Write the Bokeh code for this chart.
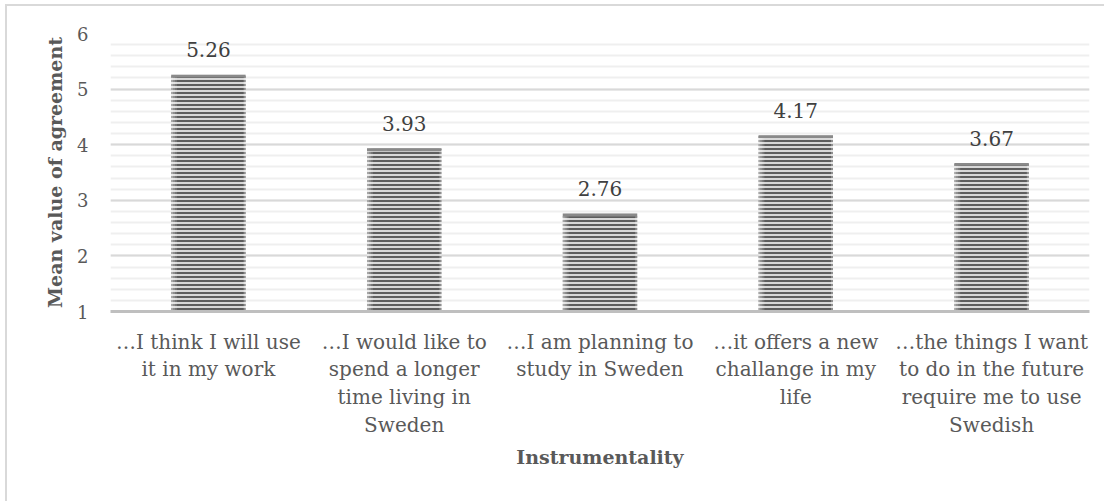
from bokeh.plotting import figure
from bokeh.models import ColumnDataSource, FixedTicker, LabelSet
from bokeh.core.properties import value
from bokeh.transform import dodge
from bokeh.embed import file_html
from bokeh.resources import INLINE

categories = [
    "…I think I will use\nit in my work",
    "…I would like to\nspend a longer\ntime living in\nSweden",
    "…I am planning to\nstudy in Sweden",
    "…it offers a new\nchallange in my\nlife",
    "…the things I want\nto do in the future\nrequire me to use\nSwedish",
]
values = [5.26, 3.93, 2.76, 4.17, 3.67]
labels = ["5.26", "3.93", "2.76", "4.17", "3.67"]
y_ticks = [1, 2, 3, 4, 5, 6]
y_minor = [round(1 + 0.2 * i, 1) for i in range(26)]

FONT = "DejaVu Serif"
TXT = "#595959"
BAR_W = 0.38
BORDER = "#d9d9d9"

src = ColumnDataSource(dict(x=categories, top=values, lab=labels,
                            band=[v - 0.05 for v in values]))

p = figure(x_range=categories, y_range=(1, 6), width=1099, height=497,
           output_backend="svg", toolbar_location=None,
           min_border_left=103, min_border_right=17, min_border_top=27,
           min_border_bottom=192)
p.outline_line_color = None
p.background_fill_color = "white"
p.border_fill_color = "white"
# outer chart-area border (light grey, top and left edges visible)
p.margin = (4, 0, 0, 5)
p.styles = {"border-top": f"2px solid {BORDER}", "border-left": f"2px solid {BORDER}"}

p.vbar(x="x", top="top", bottom=1, width=BAR_W, source=src,
       fill_color="#d8d8d8", line_color=None,
       hatch_pattern="horizontal_line", hatch_color="#5e5e5e",
       hatch_scale=4, hatch_weight=2)
# lighter shading at the bar edges
for off, a in [(-0.185, 0.45), (-0.175, 0.3), (-0.165, 0.15), (0.185, 0.3)]:
    p.vbar(x=dodge("x", off, range=p.x_range), top="top", bottom=1,
           width=0.01, source=src, fill_color="white", fill_alpha=a,
           line_color=None)
# darker band at the top of each bar
p.vbar(x="x", top="top", bottom="band", width=BAR_W, source=src,
       fill_color="#8a8a8a", line_color=None)

ls = LabelSet(x="x", y="top", text="lab", source=src, text_align="center",
              text_baseline="middle", y_offset=25, text_font=value(FONT),
              text_font_size=value("20px"), text_color="#404040")
p.add_layout(ls)

# y axis
p.yaxis.ticker = FixedTicker(ticks=y_ticks, minor_ticks=y_minor)
p.yaxis.axis_line_color = None
p.yaxis.major_tick_line_color = None
p.yaxis.minor_tick_line_color = None
p.yaxis.major_label_text_font = FONT
p.yaxis.major_label_text_font_size = "18px"
p.yaxis.major_label_text_color = TXT
p.yaxis.major_label_standoff = 16
p.yaxis.axis_label = "Mean value of agreement"
p.yaxis.axis_label_text_font = FONT
p.yaxis.axis_label_text_font_size = "19px"
p.yaxis.axis_label_text_font_style = "bold"
p.yaxis.axis_label_text_color = TXT
p.yaxis.axis_label_standoff = 8

# x axis
p.xaxis.axis_line_color = "#bfbfbf"
p.xaxis.axis_line_width = 3
p.xaxis.major_tick_line_color = None
p.xaxis.minor_tick_line_color = None
p.xaxis.major_label_text_font = FONT
p.xaxis.major_label_text_font_size = "20px"
p.xaxis.major_label_text_color = TXT
p.xaxis.major_label_text_line_height = 1.16
p.xaxis.major_label_standoff = 12
p.xaxis.axis_label = "Instrumentality"
p.xaxis.axis_label_text_font = FONT
p.xaxis.axis_label_text_font_size = "19px"
p.xaxis.axis_label_text_font_style = "bold"
p.xaxis.axis_label_text_color = TXT
p.xaxis.axis_label_standoff = 6

p.xgrid.grid_line_color = None
p.ygrid.grid_line_color = "#d9d9d9"
p.ygrid.grid_line_width = 2
p.ygrid.minor_grid_line_color = "#efefef"
p.ygrid.minor_grid_line_width = 2

open("out.html", "w").write(file_html(p, INLINE))
